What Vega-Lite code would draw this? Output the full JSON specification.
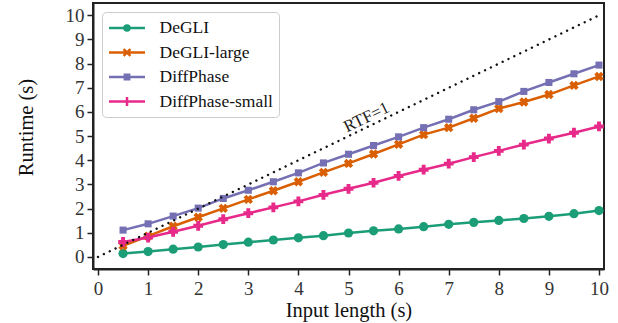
{
  "$schema": "https://vega.github.io/schema/vega-lite/v6.json",
  "width": 511,
  "height": 266,
  "autosize": {"type": "none"},
  "padding": {"left": 93, "top": 3, "right": 14, "bottom": 54},
  "background": "white",
  "config": {
    "font": "Liberation Serif",
    "view": {"stroke": "#222", "strokeWidth": 2},
    "axis": {
      "grid": false,
      "domainColor": "#222",
      "domainWidth": 2,
      "tickColor": "#222",
      "tickWidth": 1.5,
      "tickSize": 6,
      "labelFont": "Liberation Serif",
      "labelFontSize": 19,
      "labelColor": "#333",
      "labelOverlap": false,
      "titleFont": "Liberation Serif",
      "titleFontSize": 20.5,
      "titleFontWeight": "normal",
      "titleColor": "#111"
    },
    "legend": {
      "orient": "top-left",
      "offset": 9,
      "padding": 5.5,
      "fillColor": "white",
      "strokeColor": "#cccccc",
      "cornerRadius": 4,
      "labelFont": "Liberation Serif",
      "labelFontSize": 17.5,
      "labelColor": "#111",
      "labelOffset": 31,
      "rowPadding": 5.5,
      "symbolSize": 324,
      "symbolStrokeWidth": 2.5,
      "symbolOpacity": 1
    }
  },
  "datasets": {
    "runs": [
      {"x": 0.5, "y": 0.14, "series": "DeGLI"},
      {"x": 1.0, "y": 0.22, "series": "DeGLI"},
      {"x": 1.5, "y": 0.32, "series": "DeGLI"},
      {"x": 2.0, "y": 0.41, "series": "DeGLI"},
      {"x": 2.5, "y": 0.51, "series": "DeGLI"},
      {"x": 3.0, "y": 0.61, "series": "DeGLI"},
      {"x": 3.5, "y": 0.70, "series": "DeGLI"},
      {"x": 4.0, "y": 0.79, "series": "DeGLI"},
      {"x": 4.5, "y": 0.88, "series": "DeGLI"},
      {"x": 5.0, "y": 0.99, "series": "DeGLI"},
      {"x": 5.5, "y": 1.08, "series": "DeGLI"},
      {"x": 6.0, "y": 1.16, "series": "DeGLI"},
      {"x": 6.5, "y": 1.25, "series": "DeGLI"},
      {"x": 7.0, "y": 1.35, "series": "DeGLI"},
      {"x": 7.5, "y": 1.43, "series": "DeGLI"},
      {"x": 8.0, "y": 1.51, "series": "DeGLI"},
      {"x": 8.5, "y": 1.59, "series": "DeGLI"},
      {"x": 9.0, "y": 1.68, "series": "DeGLI"},
      {"x": 9.5, "y": 1.79, "series": "DeGLI"},
      {"x": 10.0, "y": 1.92, "series": "DeGLI"},
      {"x": 0.5, "y": 0.46, "series": "DeGLI-large"},
      {"x": 1.0, "y": 0.86, "series": "DeGLI-large"},
      {"x": 1.5, "y": 1.27, "series": "DeGLI-large"},
      {"x": 2.0, "y": 1.64, "series": "DeGLI-large"},
      {"x": 2.5, "y": 2.01, "series": "DeGLI-large"},
      {"x": 3.0, "y": 2.38, "series": "DeGLI-large"},
      {"x": 3.5, "y": 2.74, "series": "DeGLI-large"},
      {"x": 4.0, "y": 3.11, "series": "DeGLI-large"},
      {"x": 4.5, "y": 3.50, "series": "DeGLI-large"},
      {"x": 5.0, "y": 3.87, "series": "DeGLI-large"},
      {"x": 5.5, "y": 4.26, "series": "DeGLI-large"},
      {"x": 6.0, "y": 4.66, "series": "DeGLI-large"},
      {"x": 6.5, "y": 5.06, "series": "DeGLI-large"},
      {"x": 7.0, "y": 5.35, "series": "DeGLI-large"},
      {"x": 7.5, "y": 5.74, "series": "DeGLI-large"},
      {"x": 8.0, "y": 6.14, "series": "DeGLI-large"},
      {"x": 8.5, "y": 6.41, "series": "DeGLI-large"},
      {"x": 9.0, "y": 6.72, "series": "DeGLI-large"},
      {"x": 9.5, "y": 7.10, "series": "DeGLI-large"},
      {"x": 10.0, "y": 7.47, "series": "DeGLI-large"},
      {"x": 0.5, "y": 1.11, "series": "DiffPhase"},
      {"x": 1.0, "y": 1.37, "series": "DiffPhase"},
      {"x": 1.5, "y": 1.69, "series": "DiffPhase"},
      {"x": 2.0, "y": 2.02, "series": "DiffPhase"},
      {"x": 2.5, "y": 2.42, "series": "DiffPhase"},
      {"x": 3.0, "y": 2.76, "series": "DiffPhase"},
      {"x": 3.5, "y": 3.11, "series": "DiffPhase"},
      {"x": 4.0, "y": 3.48, "series": "DiffPhase"},
      {"x": 4.5, "y": 3.89, "series": "DiffPhase"},
      {"x": 5.0, "y": 4.25, "series": "DiffPhase"},
      {"x": 5.5, "y": 4.61, "series": "DiffPhase"},
      {"x": 6.0, "y": 4.97, "series": "DiffPhase"},
      {"x": 6.5, "y": 5.35, "series": "DiffPhase"},
      {"x": 7.0, "y": 5.70, "series": "DiffPhase"},
      {"x": 7.5, "y": 6.09, "series": "DiffPhase"},
      {"x": 8.0, "y": 6.43, "series": "DiffPhase"},
      {"x": 8.5, "y": 6.85, "series": "DiffPhase"},
      {"x": 9.0, "y": 7.22, "series": "DiffPhase"},
      {"x": 9.5, "y": 7.58, "series": "DiffPhase"},
      {"x": 10.0, "y": 7.94, "series": "DiffPhase"},
      {"x": 0.5, "y": 0.62, "series": "DiffPhase-small"},
      {"x": 1.0, "y": 0.80, "series": "DiffPhase-small"},
      {"x": 1.5, "y": 1.04, "series": "DiffPhase-small"},
      {"x": 2.0, "y": 1.29, "series": "DiffPhase-small"},
      {"x": 2.5, "y": 1.56, "series": "DiffPhase-small"},
      {"x": 3.0, "y": 1.81, "series": "DiffPhase-small"},
      {"x": 3.5, "y": 2.05, "series": "DiffPhase-small"},
      {"x": 4.0, "y": 2.30, "series": "DiffPhase-small"},
      {"x": 4.5, "y": 2.57, "series": "DiffPhase-small"},
      {"x": 5.0, "y": 2.82, "series": "DiffPhase-small"},
      {"x": 5.5, "y": 3.07, "series": "DiffPhase-small"},
      {"x": 6.0, "y": 3.35, "series": "DiffPhase-small"},
      {"x": 6.5, "y": 3.61, "series": "DiffPhase-small"},
      {"x": 7.0, "y": 3.86, "series": "DiffPhase-small"},
      {"x": 7.5, "y": 4.13, "series": "DiffPhase-small"},
      {"x": 8.0, "y": 4.39, "series": "DiffPhase-small"},
      {"x": 8.5, "y": 4.65, "series": "DiffPhase-small"},
      {"x": 9.0, "y": 4.90, "series": "DiffPhase-small"},
      {"x": 9.5, "y": 5.14, "series": "DiffPhase-small"},
      {"x": 10.0, "y": 5.40, "series": "DiffPhase-small"}
    ],
    "rtf": [
      {"x": 0, "y": 0},
      {"x": 10, "y": 10}
    ],
    "rtflabel": [
      {"x": 5.44, "y": 5.44, "label": "RTF=1"}
    ]
  },
  "encoding": {
    "x": {
      "field": "x", "type": "quantitative",
      "scale": {"domain": [-0.1, 10.1], "nice": false, "zero": false},
      "axis": {"values": [0,1,2,3,4,5,6,7,8,9,10], "tickCount": 11, "labelOverlap": false, "title": "Input length (s)", "labelPadding": 4, "titleY": 47, "titleBaseline": "alphabetic"}
    },
    "y": {
      "field": "y", "type": "quantitative",
      "scale": {"domain": [-0.5, 10.51], "nice": false, "zero": false},
      "axis": {"values": [0,1,2,3,4,5,6,7,8,9,10], "tickCount": 11, "labelOverlap": false, "title": "Runtime (s)", "labelPadding": 3, "titleX": -61, "titleY": 124, "titleBaseline": "alphabetic", "titleAlign": "center"}
    }
  },
  "layer": [
    {
      "data": {"name": "runs"},
      "mark": {"type": "line", "strokeWidth": 2.5},
      "encoding": {
        "color": {
          "field": "series", "type": "nominal",
          "scale": {
            "domain": ["DeGLI", "DeGLI-large", "DiffPhase", "DiffPhase-small"],
            "range": ["#1b9e77", "#d95f02", "#7570b3", "#e7298a"]
          },
          "legend": {"title": null}
        }
      }
    },
    {
      "data": {"name": "runs"},
      "transform": [{"filter": "datum.series == 'DeGLI'"}],
      "mark": {"type": "point", "filled": true, "opacity": 1, "shape": "circle", "size": 85},
      "encoding": {
        "color": {"field": "series", "type": "nominal", "legend": {"title": null}}
      }
    },
    {
      "data": {"name": "runs"},
      "transform": [{"filter": "datum.series == 'DeGLI-large'"}],
      "mark": {"type": "point", "filled": true, "opacity": 1, "shape": "M-0.42,-0.99L0,-0.57L0.42,-0.99L0.99,-0.42L0.57,0L0.99,0.42L0.42,0.99L0,0.57L-0.42,0.99L-0.99,0.42L-0.57,0L-0.99,-0.42Z", "size": 90},
      "encoding": {
        "color": {"field": "series", "type": "nominal", "legend": {"title": null}}
      }
    },
    {
      "data": {"name": "runs"},
      "transform": [{"filter": "datum.series == 'DiffPhase'"}],
      "mark": {"type": "point", "filled": true, "opacity": 1, "shape": "square", "size": 50},
      "encoding": {
        "color": {"field": "series", "type": "nominal", "legend": {"title": null}}
      }
    },
    {
      "data": {"name": "runs"},
      "transform": [{"filter": "datum.series == 'DiffPhase-small'"}],
      "mark": {"type": "point", "filled": true, "opacity": 1, "shape": "cross", "size": 95},
      "encoding": {
        "color": {"field": "series", "type": "nominal", "legend": {"title": null}}
      }
    },
    {
      "data": {"name": "rtf"},
      "mark": {"type": "line", "color": "#111", "strokeWidth": 2.4, "strokeDash": [0.01, 6.5], "strokeCap": "round"},
      "encoding": {}
    },
    {
      "data": {"name": "rtflabel"},
      "mark": {"type": "text", "angle": -25.8, "align": "center", "baseline": "middle", "dy": -9, "font": "Liberation Serif", "fontSize": 17, "color": "#222"},
      "encoding": {
        "text": {"field": "label"}
      }
    },
    {
      "data": {"name": "runs"},
      "mark": {"type": "point", "filled": false, "opacity": 0, "strokeWidth": 2.5},
      "encoding": {
        "color": {"field": "series", "type": "nominal", "legend": {"title": null}},
        "shape": {
          "field": "series", "type": "nominal",
          "scale": {
            "domain": ["DeGLI", "DeGLI-large", "DiffPhase", "DiffPhase-small"],
            "range": [
              "M-1,0H3M1.28,0A0.28,0.28,0,1,1,0.72,0A0.28,0.28,0,1,1,1.28,0M1.1,0A0.1,0.1,0,1,1,0.9,0A0.1,0.1,0,1,1,1.1,0",
              "M-1,0H3M0.62,-0.38L1.38,0.38M0.62,0.38L1.38,-0.38",
              "M-1,0H3M0.76,-0.24H1.24V0.24H0.76ZM0.9,-0.1H1.1V0.1H0.9Z",
              "M-1,0H3M0.5,0H1.5M1,-0.5V0.5"
            ]
          },
          "legend": {"title": null}
        }
      }
    }
  ]
}
